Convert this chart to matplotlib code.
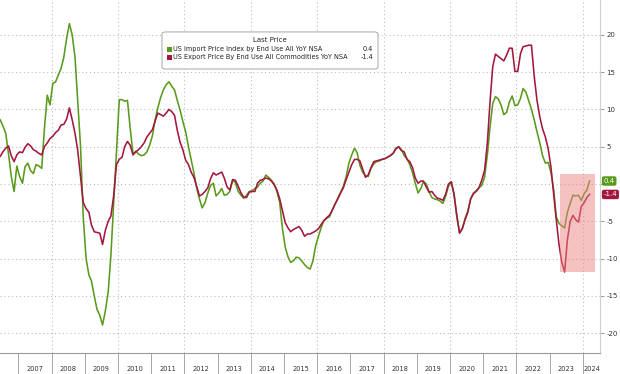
import pandas as pd
import matplotlib
matplotlib.use("Agg")
import matplotlib.pyplot as plt
import matplotlib.transforms as mtransforms
from matplotlib.patches import Rectangle, FancyBboxPatch
import matplotlib.dates as mdates

# US import / export price YoY %, monthly, May 2006 .. Mar 2024
imp_2006 = [9.0, 8.6, 7.8, 6.8, 4.0, 1.0, -1.0, 2.4]
imp_2007 = [1.0, 0.1, 2.3, 2.8, 1.8, 1.4, 2.6, 2.4, 2.1, 7.5, 11.9, 10.6]
imp_2008 = [13.5, 13.7, 14.6, 15.5, 17.0, 19.5, 21.5, 20.0, 17.0, 11.0, 5.0, -4.5]
imp_2009 = [-10.0, -12.2, -13.0, -15.0, -16.8, -17.6, -18.9, -17.0, -14.5, -9.5, -2.5, 4.5]
imp_2010 = [11.3, 11.3, 11.1, 11.2, 7.5, 4.0, 4.4, 4.0, 3.8, 3.9, 4.3, 5.2]
imp_2011 = [6.5, 8.7, 10.2, 11.6, 12.6, 13.3, 13.7, 13.1, 12.6, 11.2, 9.9, 8.4]
imp_2012 = [7.0, 5.0, 3.3, 1.5, -0.5, -2.0, -3.2, -2.5, -1.2, -0.2, 0.1, -1.6]
imp_2013 = [-1.2, -0.6, -1.5, -1.4, -1.0, 0.5, 0.2, -1.0, -1.5, -1.9, -1.5, -1.0]
imp_2014 = [-0.9, -0.6, -0.4, 0.1, 0.4, 1.2, 0.9, 0.5, 0.0, -1.0, -2.5, -6.0]
imp_2015 = [-8.5, -9.8, -10.5, -10.3, -9.8, -9.9, -10.3, -10.8, -11.2, -11.4, -10.3, -8.3]
imp_2016 = [-7.0, -5.8, -4.9, -4.6, -4.4, -3.5, -2.7, -1.9, -1.1, -0.3, 1.0, 2.8]
imp_2017 = [3.9, 4.8, 4.2, 2.5, 1.6, 1.1, 1.0, 2.1, 2.7, 3.0, 3.1, 3.3]
imp_2018 = [3.4, 3.6, 3.8, 4.1, 4.8, 5.0, 4.6, 3.8, 3.4, 2.6, 1.5, 0.1]
imp_2019 = [-1.2, -0.6, 0.3, 0.0, -1.0, -1.8, -2.0, -2.1, -2.3, -2.6, -1.6, -0.3]
imp_2020 = [0.3, -1.3, -4.2, -6.5, -6.0, -4.6, -3.6, -2.0, -1.2, -0.9, -0.5, -0.2]
imp_2021 = [0.9, 3.9, 7.5, 10.8, 11.7, 11.4, 10.6, 9.3, 9.6, 11.0, 11.8, 10.5]
imp_2022 = [10.6, 11.5, 12.8, 12.3, 11.2, 10.0, 8.6, 7.0, 5.5, 3.8, 2.8, 2.9]
imp_2023 = [1.6, -0.8, -4.4, -5.3, -5.6, -5.9, -3.8, -2.6, -1.5, -1.6, -1.5, -2.2]
imp_2024 = [-1.3, -0.8, 0.4]

exp_2006 = [3.5, 3.7, 4.3, 4.8, 5.1, 3.8, 3.0, 3.9]
exp_2007 = [4.3, 4.2, 4.9, 5.4, 5.1, 4.6, 4.4, 4.1, 3.9, 5.0, 5.5, 6.1]
exp_2008 = [6.4, 6.9, 7.2, 7.9, 8.0, 8.7, 10.2, 8.6, 6.8, 4.5, 1.0, -2.5]
exp_2009 = [-3.3, -3.8, -5.5, -6.4, -6.5, -6.6, -8.1, -6.2, -5.0, -4.3, -1.5, 2.6]
exp_2010 = [3.3, 3.6, 5.0, 5.7, 5.2, 3.9, 4.3, 4.6, 5.0, 5.5, 6.3, 6.8]
exp_2011 = [7.3, 8.5, 9.5, 9.3, 9.1, 9.5, 10.0, 9.7, 9.2, 7.2, 5.6, 4.6]
exp_2012 = [3.2, 2.6, 1.6, 0.9, -0.3, -1.6, -1.4, -1.0, -0.5, 0.7, 1.5, 1.2]
exp_2013 = [1.4, 1.6, 0.8, -0.4, -0.8, 0.6, 0.5, -0.3, -1.2, -1.8, -1.8, -1.1]
exp_2014 = [-1.0, -1.0, 0.1, 0.5, 0.6, 0.8, 0.7, 0.4, -0.1, -0.8, -2.0, -3.6]
exp_2015 = [-5.2, -5.9, -6.4, -6.1, -5.9, -5.7, -6.2, -7.0, -6.7, -6.7, -6.5, -6.3]
exp_2016 = [-6.0, -5.4, -4.9, -4.5, -4.2, -3.5, -2.7, -2.0, -1.2, -0.5, 0.6, 1.6]
exp_2017 = [2.6, 3.3, 3.3, 3.1, 2.0, 0.9, 1.2, 2.2, 3.0, 3.1, 3.2, 3.3]
exp_2018 = [3.4, 3.6, 3.8, 4.1, 4.7, 5.0, 4.5, 4.3, 3.3, 3.0, 2.2, 0.8]
exp_2019 = [0.1, 0.4, 0.4, -0.4, -1.1, -1.0, -1.5, -1.9, -2.0, -2.2, -1.3, 0.0]
exp_2020 = [0.3, -1.5, -4.2, -6.6, -6.0, -4.8, -3.8, -2.0, -1.3, -1.0, -0.5, 0.5]
exp_2021 = [1.8, 5.5, 10.8, 15.7, 17.4, 17.1, 16.8, 16.5, 17.3, 18.2, 18.2, 15.1]
exp_2022 = [15.1, 17.5, 18.4, 18.5, 18.6, 18.6, 14.5, 11.2, 9.0, 7.4, 6.3, 4.8]
exp_2023 = [2.3, -1.5, -4.8, -8.2, -10.5, -11.8, -7.5, -5.0, -4.2, -4.8, -5.1, -3.0]
exp_2024 = [-2.5, -1.8, -1.4]

import_yoy = (imp_2006 + imp_2007 + imp_2008 + imp_2009 + imp_2010 + imp_2011
              + imp_2012 + imp_2013 + imp_2014 + imp_2015 + imp_2016 + imp_2017
              + imp_2018 + imp_2019 + imp_2020 + imp_2021 + imp_2022 + imp_2023
              + imp_2024)
export_yoy = (exp_2006 + exp_2007 + exp_2008 + exp_2009 + exp_2010 + exp_2011
              + exp_2012 + exp_2013 + exp_2014 + exp_2015 + exp_2016 + exp_2017
              + exp_2018 + exp_2019 + exp_2020 + exp_2021 + exp_2022 + exp_2023
              + exp_2024)
months = pd.date_range("2006-05-01", periods=len(import_yoy), freq="MS") + pd.Timedelta(days=14)

years = list(range(2007, 2025))
year_labels = [str(y) for y in years]
ytick_vals = [-20, -15, -10, -5, 0, 5, 10, 15, 20]
ytick_labels = ["-20", "-15", "-10", "-5", "", "5", "10", "15", "20"]  # 0 sits under the tags
names = ["US Import Price Index by End Use All YoY NSA",
         "US Export Price By End Use All Commodities YoY NSA"]
last_vals = [0.4, -1.4]
box_x = ("2023-04-25", "2024-05-12")
box_y = (-11.8, 1.4)

GREEN = "#5a9a1c"
RED = "#a3173f"
GRID = "#bdbdbd"

fig = plt.figure(figsize=(6.2, 3.74), dpi=100)
ax = fig.add_axes([0, 21 / 374, 600 / 620, 353 / 374])

ax.plot(months, import_yoy, color=GREEN, lw=1.15, zorder=3)
ax.plot(months, export_yoy, color=RED, lw=1.15, zorder=4)

ax.set_xlim(pd.Timestamp("2006-06-13"), pd.Timestamp("2024-07-08"))
ax.set_ylim(-22.65, 24.66)

# grid
ax.set_yticks(ytick_vals)
ax.set_yticklabels(ytick_labels)
ax.grid(axis="y", linestyle=(0, (1, 2.5)), color=GRID, lw=0.8, zorder=1)
for y in years:
    if y % 2 == 0:
        ax.axvline(pd.Timestamp(f"{y}-01-01"), linestyle=(0, (1, 2.5)),
                   color=GRID, lw=0.8, zorder=1)

# right y axis
ax.yaxis.tick_right()
ax.tick_params(axis="y", length=3, width=0.6, color="#888888",
               labelsize=5, labelcolor="#333333", pad=1.5)
ytr = mtransforms.blended_transform_factory(ax.transAxes, ax.transData)
ax.text(1.0, 25, "    25", transform=ytr, fontsize=5, color="#333333",
        va="center", ha="left", clip_on=False)

# year separators and labels
ax.set_xticks([pd.Timestamp(f"{y}-01-01") for y in years])
ax.xaxis.set_major_formatter(plt.NullFormatter())
label_pos = [pd.Timestamp(f"{y}-07-01") for y in years[:-1]] + [pd.Timestamp("2024-04-08")]
ax.set_xticks(label_pos, minor=True)
ax.set_xticklabels(year_labels, minor=True)
ax.tick_params(axis="x", which="major", length=16, width=0.6, color="#9a9a9a")
ax.tick_params(axis="x", which="minor", length=0, labelsize=4.8,
               labelcolor="#333333", pad=9.5)

for s in ["left", "top"]:
    ax.spines[s].set_visible(False)
ax.spines["bottom"].set_color("#9a9a9a")
ax.spines["bottom"].set_linewidth(0.8)
ax.spines["right"].set_color("#cfcfcf")
ax.spines["right"].set_linewidth(0.8)

# highlight box
x0 = mdates.date2num(pd.Timestamp(box_x[0]))
x1 = mdates.date2num(pd.Timestamp(box_x[1]))
ax.add_patch(Rectangle((x0, box_y[0]), x1 - x0, box_y[1] - box_y[0],
                       facecolor="#ec8585", alpha=0.5, lw=0, zorder=5))

# last price tags
for v, c in zip(last_vals, [GREEN, RED]):
    ax.text(1.006, v, f"{v:.1f}", transform=ytr, fontsize=5, color="white",
            va="center", ha="left", clip_on=False, zorder=8,
            bbox=dict(boxstyle="round,pad=0.25,rounding_size=0.3", fc=c, ec="none"))

# legend
ax.add_patch(FancyBboxPatch((0.27, 0.8045), 0.36, 0.105, transform=ax.transAxes,
                            boxstyle="round,pad=0,rounding_size=0.006",
                            fc="white", ec="#999999", lw=0.6, zorder=6))
ax.text(0.45, 0.887, "Last Price", transform=ax.transAxes, fontsize=5,
        ha="center", va="center", color="#222222", zorder=7)
for i, (name, v, c) in enumerate(zip(names, last_vals, [GREEN, RED])):
    yy = 0.8603 - i * 0.0226
    ax.add_patch(Rectangle((0.2778, yy - 0.0071), 0.0083, 0.0142,
                           transform=ax.transAxes, fc=c, ec="none", zorder=7))
    ax.text(0.2885, yy, name, transform=ax.transAxes, fontsize=4.7,
            ha="left", va="center", color="#222222", zorder=7)
    ax.text(0.622, yy, f"{v:.1f}", transform=ax.transAxes, fontsize=4.7,
            ha="right", va="center", color="#222222", zorder=7)

fig.savefig("out.png", dpi=100)
